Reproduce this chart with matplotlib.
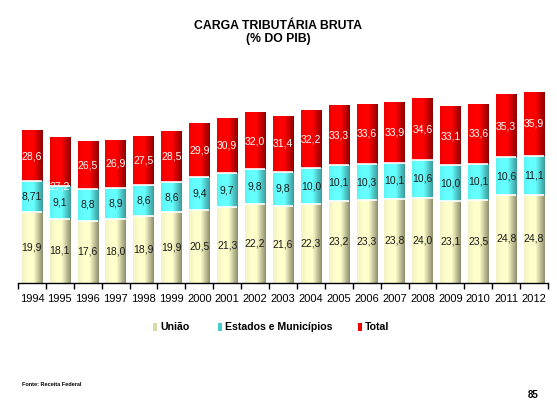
import numpy as np
import matplotlib.pyplot as plt
from matplotlib.colors import LinearSegmentedColormap
from matplotlib.patches import Rectangle

anos = [str(a) for a in range(1994, 2013)]
uniao = [19.9, 18.1, 17.6, 18.0, 18.9, 19.9, 20.5, 21.3, 22.2, 21.6,
         22.3, 23.2, 23.3, 23.8, 24.0, 23.1, 23.5, 24.8, 24.8]
estados = [8.71, 9.1, 8.8, 8.9, 8.6, 8.6, 9.4, 9.7, 9.8, 9.8,
           10.0, 10.1, 10.3, 10.1, 10.6, 10.0, 10.1, 10.6, 11.1]
total = [28.6, 27.2, 26.5, 26.9, 27.5, 28.5, 29.9, 30.9, 32.0, 31.4,
         32.2, 33.3, 33.6, 33.9, 34.6, 33.1, 33.6, 35.3, 35.9]
series = ['União', 'Estados e Municípios', 'Total']

# the Total segment is drawn at half scale in the original slide
escala_total = 0.5

plt.rcParams['font.family'] = ['Liberation Sans', 'DejaVu Sans']

def fmt(v):
    s = '%.1f' % v if round(v, 1) == v else '%.2f' % v
    return s.replace('.', ',')

def grad_cmap(c_mid, c_light, c_dark):
    return LinearSegmentedColormap.from_list(
        'g', [(0.0, c_mid), (0.3, c_light), (0.55, c_light), (1.0, c_dark)])

cm_uniao = grad_cmap('#f2f1c4', '#ffffcc', '#8c8c6c')
cm_est = grad_cmap('#5cf2f2', '#66ffff', '#3a9a9a')
cm_tot = grad_cmap('#ee0000', '#ff0000', '#8a0000')

fig = plt.figure(figsize=(5.57, 4.19), dpi=100)
ax = fig.add_axes([18 / 557, (419 - 283) / 419, 530 / 557, 213 / 419])

x = np.arange(len(anos))
w = 0.73
uni = np.array(uniao)
est = np.array(estados)
tot = np.array(total) * escala_total

b1 = ax.bar(x, uni, w, facecolor='none', edgecolor='none', zorder=3)
b2 = ax.bar(x, est, w, bottom=uni, facecolor='none', edgecolor='none', zorder=3)
b3 = ax.bar(x, tot, w, bottom=uni + est, facecolor='none', edgecolor='none', zorder=3)

g = np.tile(np.linspace(0, 1, 256), (2, 1))
for bars, cm in [(b1, cm_uniao), (b2, cm_est), (b3, cm_tot)]:
    for r in bars:
        x0, y0 = r.get_x(), r.get_y()
        ax.imshow(g, cmap=cm, extent=[x0, x0 + r.get_width(), y0, y0 + r.get_height()],
                  aspect='auto', zorder=2, interpolation='nearest')

# white separators between the stacked segments
ax.hlines(uni, x - w / 2, x + w / 2, colors='white', lw=1.2, zorder=3)
ax.hlines(uni + est, x - w / 2, x + w / 2, colors='white', lw=1.2, zorder=3)

for i in range(len(anos)):
    ax.text(x[i], uni[i] / 2, fmt(uniao[i]), ha='center', va='center',
            fontsize=7.5, color='#1a1a1a', zorder=4)
    ax.text(x[i], uni[i] + est[i] / 2, fmt(estados[i]), ha='center', va='center',
            fontsize=7.5, color='#1a1a1a', zorder=4)
    # 1995 label sits on the lower edge of its red segment
    if anos[i] == '1995':
        yt = uni[i] + est[i]
    else:
        yt = uni[i] + est[i] + tot[i] / 2
    ax.text(x[i], yt, fmt(total[i]), ha='center', va='center',
            fontsize=7.5, color='white', zorder=4)

ax.set_xlim(-0.5, len(anos) - 0.5)
ax.set_ylim(0, 60)
for s in ['top', 'right', 'left']:
    ax.spines[s].set_visible(False)
ax.spines['bottom'].set_linewidth(1.0)
ax.set_yticks([])
ax.set_xticks(x)
ax.set_xticklabels(anos, fontsize=8)
ax.tick_params(axis='x', which='major', length=0, pad=8)
ax.set_xticks(np.arange(-0.5, len(anos), 1), minor=True)
ax.tick_params(axis='x', which='minor', length=4, width=1, direction='out')

# legend drawn by hand to match the slide spacing
leg_cols = ['#d9d8a8', '#44cccc', '#ee0000']
leg_x = [153, 218, 358]
leg_y = 1 - 327 / 419
for xs, col, lab in zip(leg_x, leg_cols, series):
    fig.patches.append(Rectangle((xs / 557, leg_y - 4 / 419), 4 / 557, 8 / 419,
                                 facecolor=col, edgecolor='none',
                                 transform=fig.transFigure, figure=fig))
    fig.text((xs + 7) / 557, leg_y, lab, ha='left', va='center',
             fontsize=7.6, fontweight='bold')

fig.text(278 / 557, 1 - 26 / 419, 'CARGA TRIBUTÁRIA BRUTA', ha='center', va='center',
         fontsize=8.8, fontweight='bold')
fig.text(278 / 557, 1 - 39 / 419, '(% DO PIB)', ha='center', va='center',
         fontsize=8.8, fontweight='bold')
fig.text(22 / 557, 1 - 384 / 419, 'Fonte: Receita Federal', ha='left', va='center',
         fontsize=4, fontweight='bold')
fig.text(538 / 557, 1 - 395 / 419, '85', ha='right', va='center',
         fontsize=7, fontweight='bold')

fig.savefig('out.png', dpi=100)
